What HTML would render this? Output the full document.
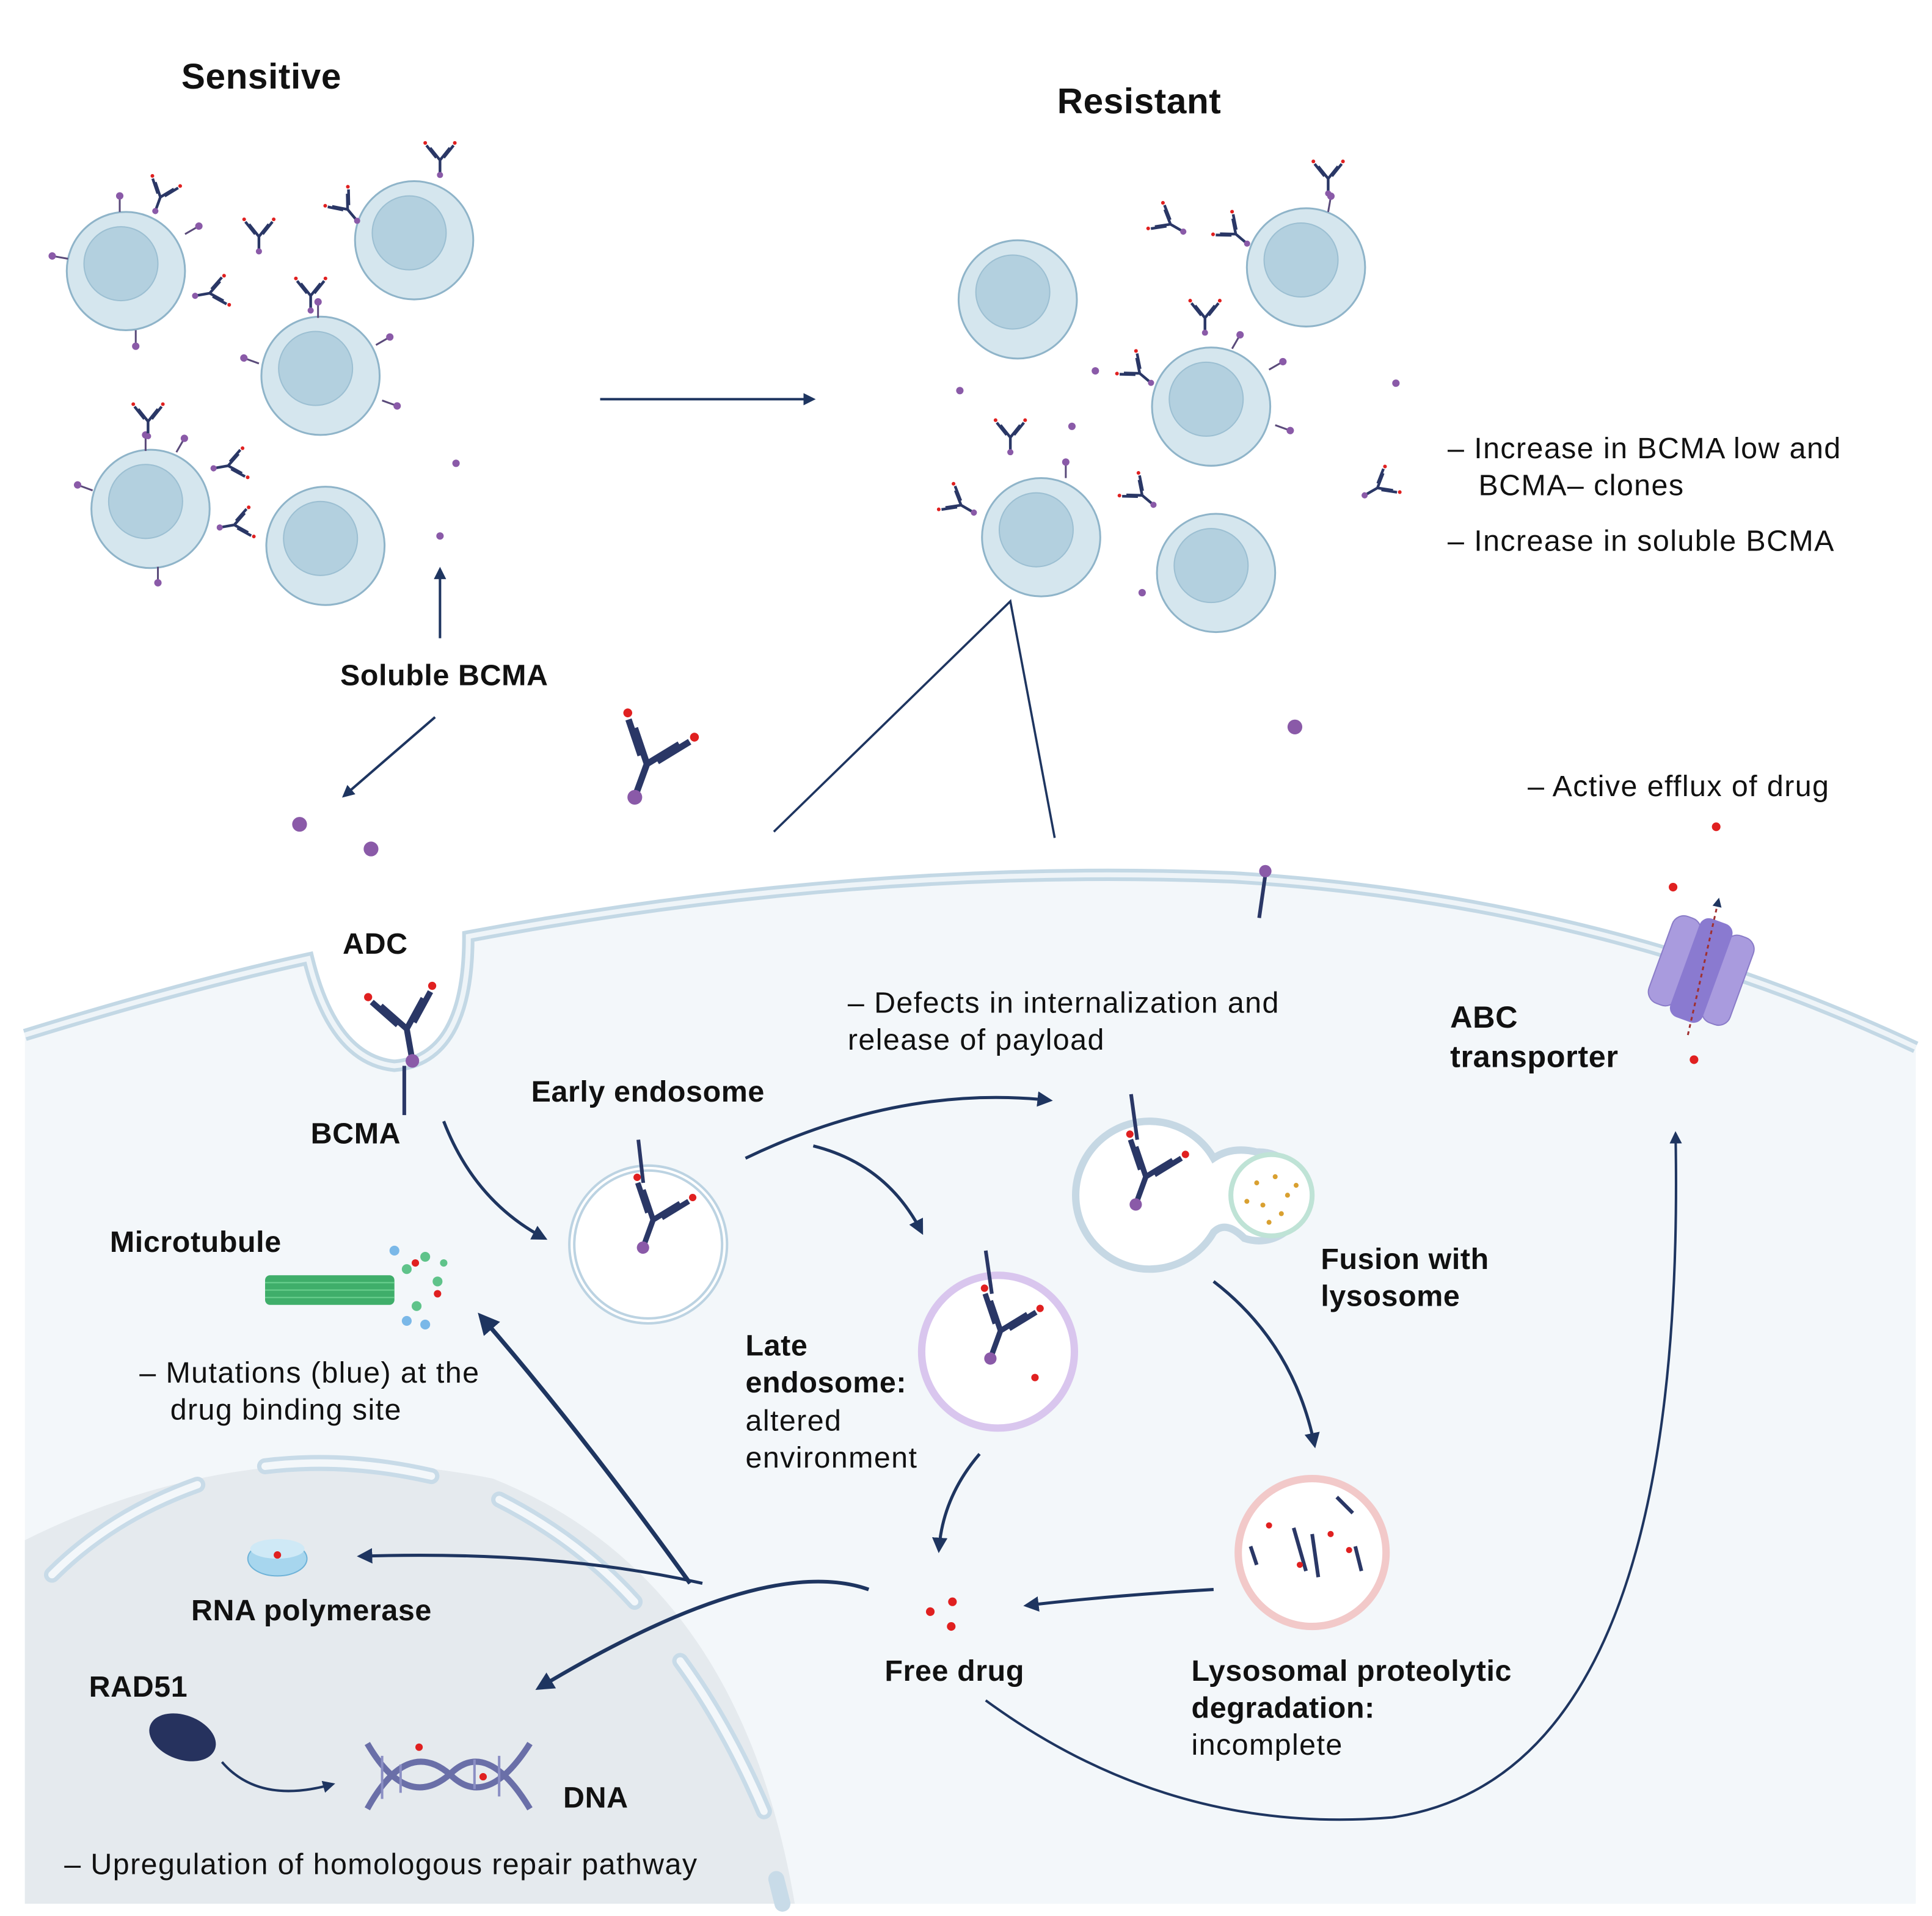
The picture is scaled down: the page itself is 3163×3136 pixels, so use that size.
<!DOCTYPE html>
<html><head><meta charset="utf-8"><style>
html,body{margin:0;padding:0;background:#fff;}
svg{display:block;}
text{font-family:"Liberation Sans",sans-serif;fill:#111;font-size:24px;letter-spacing:0.7px;}
.b{font-weight:bold;letter-spacing:0.3px;}
</style></head><body>
<svg width="3163" height="3136" viewBox="0 0 1568 1555" xmlns="http://www.w3.org/2000/svg">
<defs>
<marker id="ah" viewBox="0 0 10 10" refX="8" refY="5" markerWidth="5" markerHeight="5" orient="auto"><path d="M0,0 L10,5 L0,10 z" fill="#1e3560"/></marker>
<g id="cell"><circle r="48" fill="#d5e6ee" stroke="#8fb4c9" stroke-width="1.5"/><circle cx="-4" cy="-6" r="30" fill="#b3d0df" stroke="#9cbfd2" stroke-width="1"/></g>
<g id="ab"><path d="M0,0 L-8,-10 M0,0 L8,-10 M0,0 L0,10 M-3,-2 L-11,-12 M3,-2 L11,-12" stroke="#2a3766" stroke-width="2.2" fill="none"/><circle cx="-12" cy="-14" r="1.5" fill="#e02020"/><circle cx="12" cy="-14" r="1.5" fill="#e02020"/><circle cx="0" cy="12" r="2.5" fill="#8a5aa8"/></g>
<g id="rec"><line x1="0" y1="0" x2="0" y2="-12" stroke="#5a4a7a" stroke-width="1.5"/><circle cx="0" cy="-13" r="3" fill="#8a5aa8"/></g>
</defs>

<path d="M20,840 Q150,800 250,778 Q270,860 320,865 Q380,860 380,760 Q700,700 1000,712 Q1300,730 1555,850 L1555,1545 L20,1545 Z" fill="#f3f7fa"/>
<path d="M20,840 Q150,800 250,778 Q270,860 320,865 Q380,860 380,760 Q700,700 1000,712 Q1300,730 1555,850" fill="none" stroke="#c3d8e5" stroke-width="10"/>
<path d="M20,840 Q150,800 250,778 Q270,860 320,865 Q380,860 380,760 Q700,700 1000,712 Q1300,730 1555,850" fill="none" stroke="#eef4f8" stroke-width="4"/>

<path d="M20,1250 Q200,1160 400,1200 Q600,1280 645,1545 L20,1545 Z" fill="#e5eaee"/>
<g stroke="#c8dbe8" stroke-width="13" stroke-linecap="round" fill="none">
<path d="M42,1278 Q90,1230 160,1205"/><path d="M215,1190 Q280,1182 350,1198"/><path d="M405,1217 Q470,1250 515,1300"/><path d="M552,1348 Q590,1400 620,1470"/><path d="M630,1525 L635,1545"/>
</g>
<g stroke="#f3f7fa" stroke-width="6" stroke-linecap="round" fill="none">
<path d="M42,1278 Q90,1230 160,1205"/><path d="M215,1190 Q280,1182 350,1198"/><path d="M405,1217 Q470,1250 515,1300"/><path d="M552,1348 Q590,1400 620,1470"/>
</g>

<use href="#cell" x="102" y="220"/><use href="#cell" x="336" y="195"/><use href="#cell" x="260" y="305"/><use href="#cell" x="122" y="413"/><use href="#cell" x="264" y="443"/>
<use href="#cell" x="826" y="243"/><use href="#cell" x="1060" y="217"/><use href="#cell" x="983" y="330"/><use href="#cell" x="845" y="436"/><use href="#cell" x="987" y="465"/>

<g>
<use href="#rec" x="97" y="172"/><use href="#rec" x="150" y="190" transform="rotate(60 150 190)"/><use href="#rec" x="55" y="210" transform="rotate(-80 55 210)"/><use href="#rec" x="110" y="268" transform="rotate(180 110 268)"/>
<use href="#rec" x="258" y="258"/><use href="#rec" x="305" y="280" transform="rotate(60 305 280)"/><use href="#rec" x="210" y="295" transform="rotate(-70 210 295)"/><use href="#rec" x="310" y="325" transform="rotate(110 310 325)"/>
<use href="#rec" x="118" y="366"/><use href="#rec" x="75" y="398" transform="rotate(-70 75 398)"/><use href="#rec" x="128" y="460" transform="rotate(180 128 460)"/><use href="#rec" x="143" y="367" transform="rotate(30 143 367)"/>
<use href="#rec" x="865" y="388"/><use href="#rec" x="1000" y="283" transform="rotate(30 1000 283)"/><use href="#rec" x="1030" y="300" transform="rotate(60 1030 300)"/><use href="#rec" x="1035" y="345" transform="rotate(110 1035 345)"/><use href="#rec" x="1078" y="172" transform="rotate(10 1078 172)"/>
<use href="#ab" x="130" y="160" transform="rotate(20 130 160)"/><use href="#ab" x="170" y="238" transform="rotate(80 170 238)"/><use href="#ab" x="210" y="192"/><use href="#ab" x="252" y="240"/><use href="#ab" x="282" y="170" transform="rotate(-40 282 170)"/><use href="#ab" x="357" y="130"/>
<use href="#ab" x="120" y="342"/><use href="#ab" x="185" y="378" transform="rotate(80 185 378)"/><use href="#ab" x="190" y="426" transform="rotate(80 190 426)"/>
<use href="#ab" x="950" y="182" transform="rotate(-60 950 182)"/><use href="#ab" x="1003" y="190" transform="rotate(-50 1003 190)"/><use href="#ab" x="1078" y="145"/><use href="#ab" x="978" y="258"/><use href="#ab" x="925" y="303" transform="rotate(-50 925 303)"/>
<use href="#ab" x="820" y="355"/><use href="#ab" x="927" y="402" transform="rotate(-50 927 402)"/><use href="#ab" x="780" y="410" transform="rotate(-60 780 410)"/><use href="#ab" x="1118" y="396" transform="rotate(60 1118 396)"/>
</g>
<g fill="#8a5aa8">
<circle cx="243" cy="669" r="6"/><circle cx="301" cy="689" r="6"/><circle cx="1051" cy="590" r="6"/><circle cx="370" cy="376" r="3"/><circle cx="357" cy="435" r="3"/><circle cx="779" cy="317" r="3"/><circle cx="889" cy="301" r="3"/><circle cx="870" cy="346" r="3"/><circle cx="1133" cy="311" r="3"/><circle cx="927" cy="481" r="3"/>
</g>
<g transform="translate(525,620) scale(2.4) rotate(20)"><use href="#ab"/></g>
<line x1="1022" y1="745" x2="1027" y2="710" stroke="#2a3766" stroke-width="3"/><circle cx="1027" cy="707" r="5" fill="#8a5aa8"/>
<line x1="328" y1="905" x2="328" y2="865" stroke="#2a3766" stroke-width="3"/>
<g transform="translate(330,835) scale(2.2) rotate(-10)"><use href="#ab"/></g>

<line x1="487" y1="324" x2="660" y2="324" stroke="#1e3560" stroke-width="2" marker-end="url(#ah)"/>
<line x1="357" y1="518" x2="357" y2="462" stroke="#1e3560" stroke-width="2" marker-end="url(#ah)"/>
<line x1="353" y1="582" x2="279" y2="646" stroke="#1e3560" stroke-width="2" marker-end="url(#ah)"/>
<path d="M628,675 L820,488 L856,680" fill="none" stroke="#1e3560" stroke-width="1.8"/>

<circle cx="526" cy="1010" r="62" fill="#fff" stroke="#bcd3e2" stroke-width="6"/><circle cx="526" cy="1010" r="62" fill="none" stroke="#fff" stroke-width="2"/>
<line x1="518" y1="925" x2="522" y2="960" stroke="#2a3766" stroke-width="3"/><g transform="translate(530,990) scale(2) rotate(20)"><use href="#ab"/></g>
<circle cx="810" cy="1097" r="62" fill="#fff" stroke="#d9c6ee" stroke-width="6"/>
<line x1="800" y1="1015" x2="805" y2="1050" stroke="#2a3766" stroke-width="3"/><g transform="translate(812,1080) scale(2) rotate(20)"><use href="#ab"/></g><circle cx="840" cy="1118" r="3" fill="#e02020"/>
<path d="M985,940 Q1000,930 1020,935 A36,36 0 1 1 1010,1005 Q995,990 985,1000 A60,60 0 1 1 985,940 Z" fill="#fff" stroke="#c6d8e4" stroke-width="6"/>
<circle cx="1032" cy="970" r="33" fill="#fff" stroke="#bfe3d6" stroke-width="4"/>
<line x1="918" y1="888" x2="923" y2="925" stroke="#2a3766" stroke-width="3"/><g transform="translate(930,955) scale(2) rotate(20)"><use href="#ab"/></g>
<g fill="#d9a030"><circle cx="1020" cy="960" r="2"/><circle cx="1035" cy="955" r="2"/><circle cx="1045" cy="970" r="2"/><circle cx="1025" cy="978" r="2"/><circle cx="1040" cy="985" r="2"/><circle cx="1052" cy="962" r="2"/><circle cx="1012" cy="975" r="2"/><circle cx="1030" cy="992" r="2"/></g>
<circle cx="1065" cy="1260" r="60" fill="#fff" stroke="#f2c9c9" stroke-width="6"/>
<g stroke="#2a3766" stroke-width="3"><line x1="1050" y1="1240" x2="1060" y2="1275"/><line x1="1065" y1="1245" x2="1070" y2="1280"/><line x1="1015" y1="1255" x2="1020" y2="1270"/><line x1="1085" y1="1215" x2="1098" y2="1228"/><line x1="1100" y1="1255" x2="1105" y2="1275"/></g>
<g fill="#e02020"><circle cx="1030" cy="1238" r="2.5"/><circle cx="1080" cy="1245" r="2.5"/><circle cx="1095" cy="1258" r="2.5"/><circle cx="1055" cy="1270" r="2.5"/></g>

<g fill="none" stroke="#1e3560" stroke-width="2.5" marker-end="url(#ah)">
<path d="M360,910 Q385,975 442,1005"/>
<path d="M605,940 Q730,880 852,893"/>
<path d="M660,930 Q720,945 748,1000"/>
<path d="M985,1040 Q1050,1090 1067,1173"/>
<path d="M795,1180 Q765,1215 762,1258"/>
<path d="M985,1290 Q900,1295 833,1303"/>
<path d="M570,1285 Q450,1258 292,1263"/>
<path d="M560,1285 Q470,1160 390,1068" stroke-width="3.5"/>
<path d="M705,1290 Q620,1260 437,1370" stroke-width="3"/>
<path d="M800,1380 Q950,1490 1130,1475 Q1370,1440 1360,920" stroke-width="2"/>
</g>

<g fill="#e02020"><circle cx="755" cy="1308" r="3.5"/><circle cx="773" cy="1300" r="3.5"/><circle cx="772" cy="1320" r="3.5"/></g>

<rect x="215" y="1035" width="105" height="24" rx="4" fill="#3fae6a"/>
<g stroke="#6bd08f" stroke-width="1"><line x1="215" y1="1041" x2="320" y2="1041"/><line x1="215" y1="1047" x2="320" y2="1047"/><line x1="215" y1="1053" x2="320" y2="1053"/></g>
<g fill="#5fc38a"><circle cx="330" cy="1030" r="4"/><circle cx="345" cy="1020" r="4"/><circle cx="355" cy="1040" r="4"/><circle cx="338" cy="1060" r="4"/><circle cx="360" cy="1025" r="3"/></g>
<g fill="#7ab8e8"><circle cx="345" cy="1075" r="4"/><circle cx="330" cy="1072" r="4"/><circle cx="320" cy="1015" r="4"/></g>
<circle cx="337" cy="1025" r="3" fill="#e02020"/><circle cx="355" cy="1050" r="3" fill="#e02020"/>

<ellipse cx="225" cy="1265" rx="24" ry="14" fill="#a7d6ee" stroke="#6fb3d8"/><ellipse cx="225" cy="1257" rx="22" ry="8" fill="#cfe9f6"/><circle cx="225" cy="1262" r="3" fill="#e02020"/>
<ellipse cx="148" cy="1410" rx="28" ry="18" fill="#26325e" transform="rotate(20 148 1410)"/>
<path d="M180,1430 Q210,1465 270,1448" fill="none" stroke="#1e3560" stroke-width="2" marker-end="url(#ah)"/>
<g fill="none" stroke="#6a6fa8" stroke-width="5"><path d="M298,1415 Q330,1470 365,1440 Q395,1410 430,1468"/><path d="M298,1468 Q330,1410 365,1440 Q395,1470 430,1415"/></g>
<g stroke="#8b8fc4" stroke-width="2"><line x1="310" y1="1425" x2="310" y2="1460"/><line x1="325" y1="1432" x2="325" y2="1455"/><line x1="385" y1="1428" x2="385" y2="1452"/><line x1="405" y1="1425" x2="405" y2="1458"/></g>
<circle cx="340" cy="1418" r="3" fill="#e02020"/><circle cx="392" cy="1442" r="3" fill="#e02020"/>

<g transform="translate(1380,790) rotate(20)">
<rect x="-35" y="-40" width="24" height="75" rx="10" fill="#a99bde" stroke="#8a7cc8"/><rect x="11" y="-40" width="24" height="75" rx="10" fill="#a99bde" stroke="#8a7cc8"/><rect x="-14" y="-45" width="28" height="85" rx="8" fill="#8a7ad0"/>
</g>
<line x1="1370" y1="840" x2="1395" y2="730" stroke="#a03030" stroke-width="1.5" stroke-dasharray="3,3" marker-end="url(#ah)"/>
<g fill="#e02020"><circle cx="1358" cy="720" r="3.5"/><circle cx="1393" cy="671" r="3.5"/><circle cx="1375" cy="860" r="3.5"/></g>

<text x="147" y="72" style="font-size:29px" class="b">Sensitive</text>
<text x="858" y="92" style="font-size:29px" class="b">Resistant</text>
<text x="1175" y="372">– Increase in BCMA low and</text>
<text x="1200" y="402">BCMA– clones</text>
<text x="1175" y="447">– Increase in soluble BCMA</text>
<text x="276" y="556" class="b">Soluble BCMA</text>
<text x="1240" y="646">– Active efflux of drug</text>
<text x="278" y="774" class="b">ADC</text>
<text x="252" y="928" class="b">BCMA</text>
<text x="688" y="822">– Defects in internalization and</text>
<text x="688" y="852">release of payload</text>
<text x="1177" y="834" style="font-size:25px" class="b">ABC</text>
<text x="1177" y="866" style="font-size:25px" class="b">transporter</text>
<text x="431" y="894" class="b">Early endosome</text>
<text x="89" y="1016" class="b">Microtubule</text>
<text x="1072" y="1030" class="b">Fusion with</text>
<text x="1072" y="1060" class="b">lysosome</text>
<text x="605" y="1100" class="b">Late</text>
<text x="605" y="1130" class="b">endosome:</text>
<text x="605" y="1161">altered</text>
<text x="605" y="1191">environment</text>
<text x="113" y="1122">– Mutations (blue) at the</text>
<text x="138" y="1152">drug binding site</text>
<text x="155" y="1315" class="b">RNA polymerase</text>
<text x="718" y="1364" class="b">Free drug</text>
<text x="967" y="1364" class="b">Lysosomal proteolytic</text>
<text x="967" y="1394" class="b">degradation:</text>
<text x="967" y="1424">incomplete</text>
<text x="72" y="1377" class="b">RAD51</text>
<text x="457" y="1467" class="b">DNA</text>
<text x="52" y="1521">– Upregulation of homologous repair pathway</text>
</svg>
</body></html>
